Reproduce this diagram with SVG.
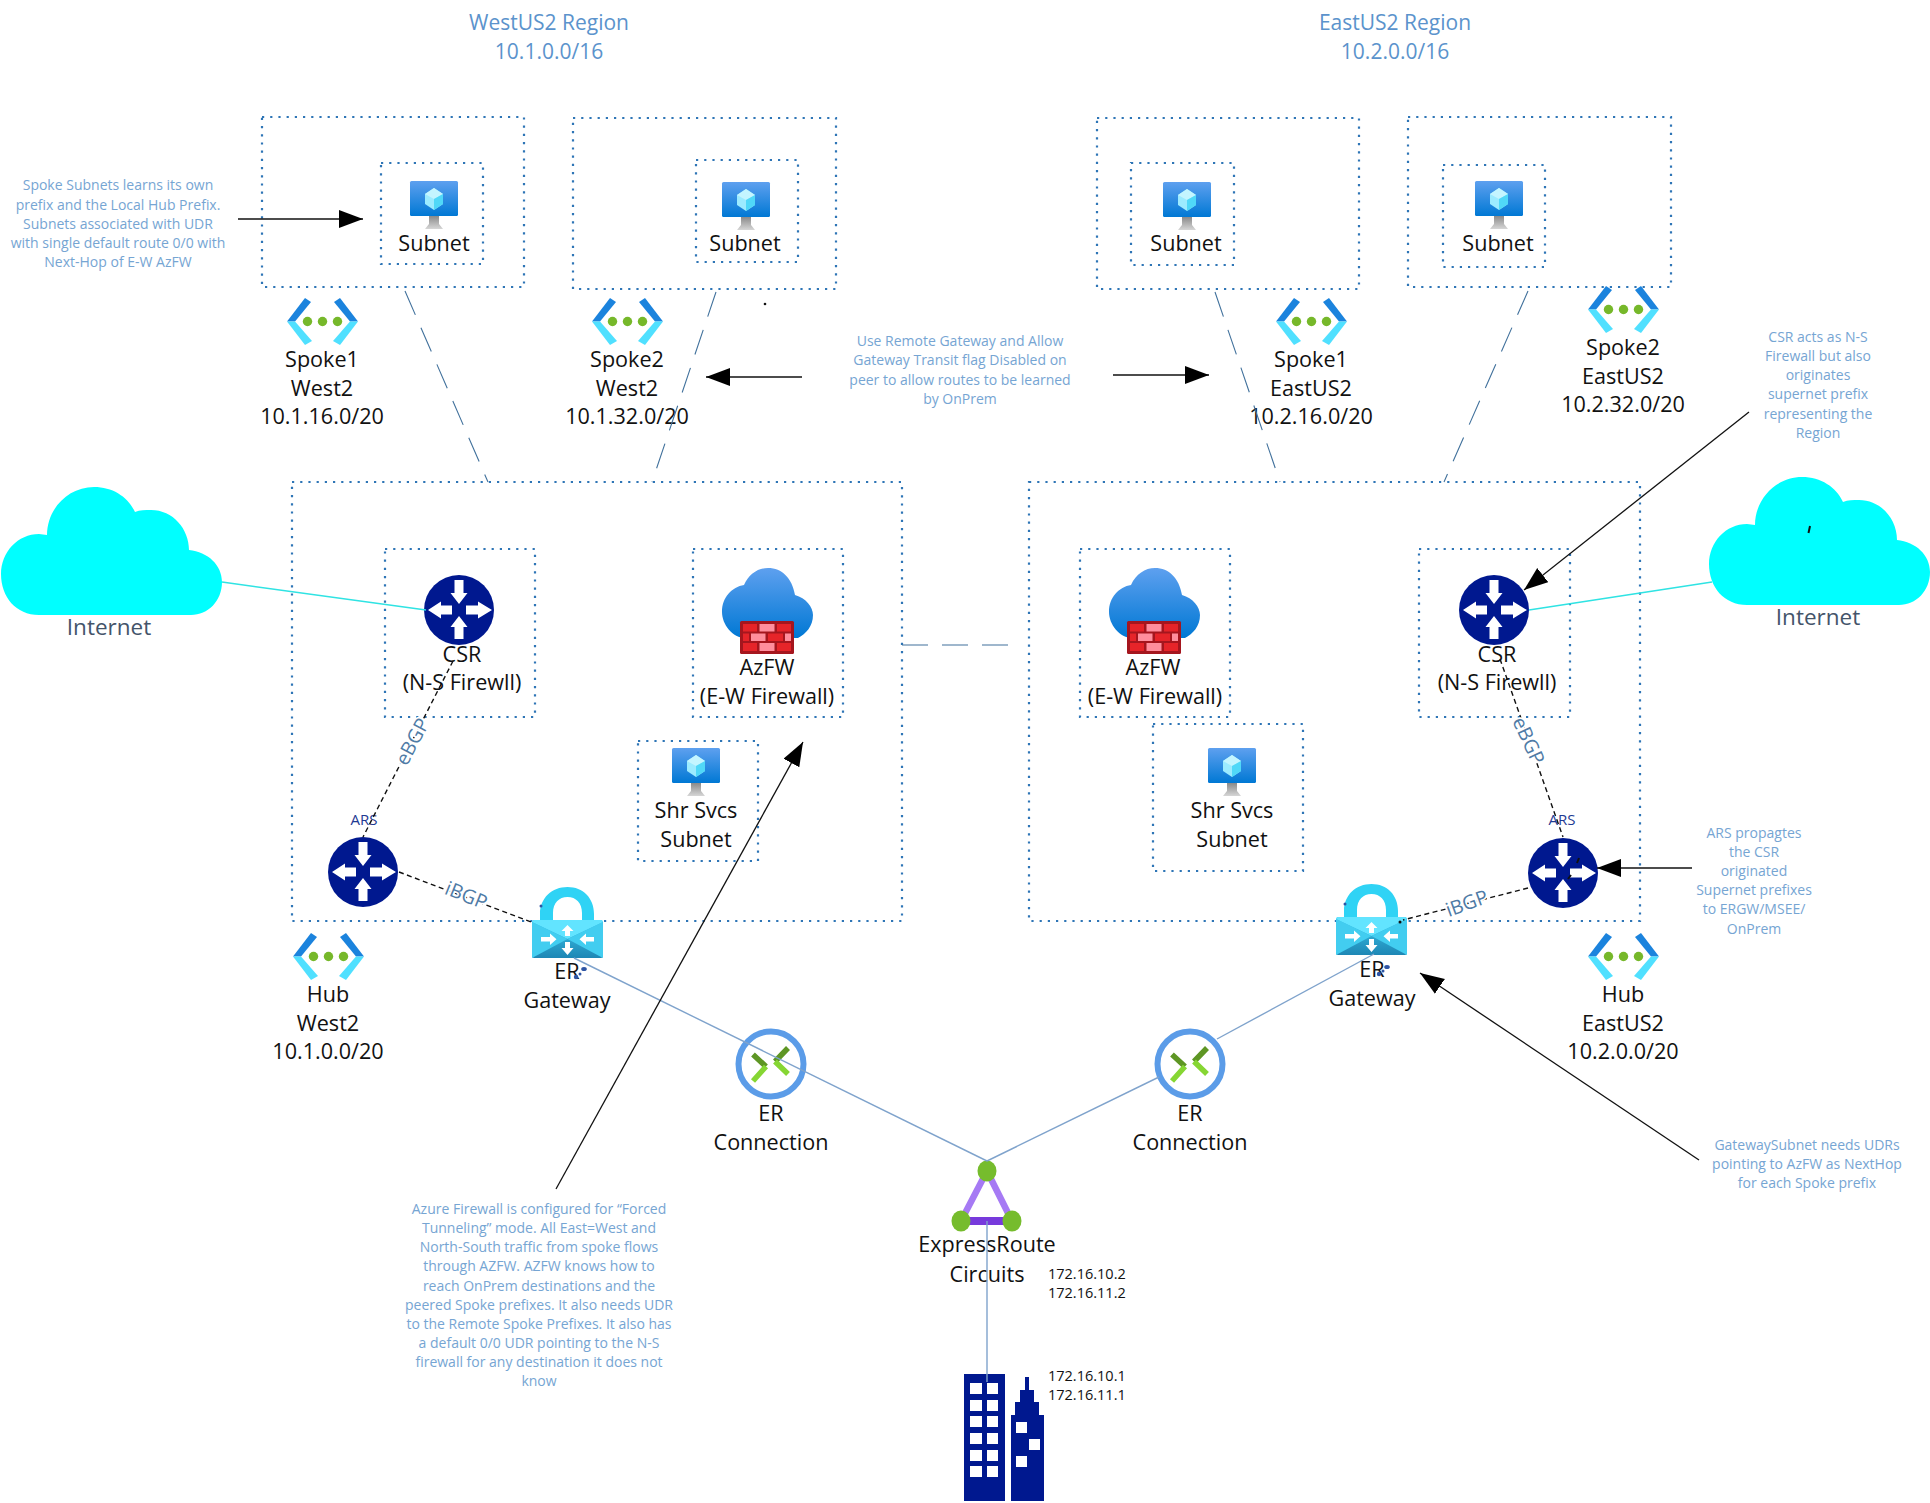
<svg xmlns="http://www.w3.org/2000/svg" xmlns:xlink="http://www.w3.org/1999/xlink" width="1930" height="1503" viewBox="0 0 1930 1503">
<style>
text{font-family:"Open Sans","Noto Sans","Liberation Sans",sans-serif;text-anchor:middle}
.box{fill:none;stroke:#2E75B6;stroke-width:2.2;stroke-dasharray:2.2 6}
.l{font-size:21.6px;fill:#111}
.r{font-size:21px;fill:#5B93CC}
.a{font-size:14px;fill:#76A5D3}
.net{font-size:22.5px;fill:#44546A}
.bgp{font-size:19.5px;fill:#4F7BA6;stroke:#fff;stroke-width:3.5;paint-order:stroke}
.ars{font-size:15px;fill:#1F3A93}
.ip{font-size:14.5px;fill:#111;text-anchor:start}
.peer{fill:none;stroke:#41719C;stroke-width:1.1;stroke-dasharray:26 14}
.er{fill:none;stroke:#7FA3CC;stroke-width:1.4}
.inet{fill:none;stroke:#2FE3E3;stroke-width:1.5}
.bg{fill:none;stroke:#111;stroke-width:1.4;stroke-dasharray:5 3.5}
.ann{fill:none;stroke:#111;stroke-width:1.3;marker-end:url(#head)}
.mark{fill:#2F55A4}
</style>
<defs>
<marker id="head" markerUnits="userSpaceOnUse" markerWidth="26" markerHeight="20" refX="24" refY="9" orient="auto"><path d="M0 0L24 9L0 18Z" fill="#000"/></marker>
<linearGradient id="vmg" x1="0" y1="0" x2="0" y2="1"><stop offset="0" stop-color="#5EA0EF"/><stop offset="1" stop-color="#0078D4"/></linearGradient>
<linearGradient id="stand" x1="0" y1="0" x2="0" y2="1"><stop offset="0" stop-color="#8A8A8A"/><stop offset="1" stop-color="#D6D6D6"/></linearGradient>
<linearGradient id="lockb" x1="0" y1="0" x2="0" y2="1"><stop offset="0" stop-color="#3EC8EC"/><stop offset="1" stop-color="#1E87B5"/></linearGradient>
<symbol id="vm" viewBox="0 0 48 48" width="48" height="48" overflow="visible">
<rect width="48" height="35" rx="1.5" fill="url(#vmg)"/>
<path d="M24 7L33 13V23L24 29L15 23V13Z" fill="#9CEBFF"/><path d="M24 7L33 13L24 18L15 13Z" fill="#C4F5FF"/><path d="M24 18V29L33 23V13Z" fill="#50D8F8"/>
<path d="M19 35H29V43L33 48H15L19 43Z" fill="url(#stand)"/>
</symbol>
<symbol id="vnet" viewBox="0 0 71 47" width="71" height="47" overflow="visible">
<path d="M0 23.500L18 0L24 4L8 23.500Z" fill="#1B83DD"/><path d="M0 23.500L18 47L25 43L8 23.500Z" fill="#50E0FF"/>
<path d="M71 23.500L53 0L47 4L63 23.500Z" fill="#1B83DD"/><path d="M71 23.500L53 47L46 43L63 23.500Z" fill="#50E0FF"/>
<circle cx="20.500" cy="23.500" r="4.700" fill="#76B82A"/><circle cx="35.500" cy="23.500" r="4.700" fill="#76B82A"/><circle cx="50.500" cy="23.500" r="4.700" fill="#76B82A"/>
</symbol>
<symbol id="router" viewBox="-35 -35 70 70" width="70" height="70" overflow="visible">
<circle r="35" fill="#00188F"/>
<path fill="#fff" d="M-4.500 -30H4.500V-17H8.500L0 -6L-8.500 -17H-4.500Z M-4.500 29H4.500V17H8.500L0 6L-8.500 17H-4.500Z M-7 -4.500V4.500H-18V8.500L-31 0L-18 -8.500V-4.500Z M7 -4.500V4.500H19V8.500L33 0L19 -8.500V-4.500Z"/>
</symbol>
<symbol id="cloud" viewBox="0 0 221 128" width="221" height="128">
<path fill="#00FFFF" d="M38 128C15 128 0 110 0 87C0 65 17 47 38 47L46 48C46 22 67 0 93 0C112 0 127 10 134 25C139 23 144 23 150 23C172 23 188 42 188 63C207 65 221 78 221 95C221 114 207 128 190 128Z"/>
</symbol>
<symbol id="azfw" viewBox="0 0 91 86" width="91" height="86" overflow="visible">
<path fill="url(#vmg)" d="M24 70C10 70 0 56 0 44C0 29 10 19 22 17C27 6 36 0 46 0C60 0 70 10 73 27C84 30 91 39 91 47C91 58 84 66 76 70Z"/>
<g transform="translate(18 53)">
<rect width="54" height="33" rx="1.5" fill="#A5161E"/>
<path fill="#E62429" d="M3 3H17V10.500H3Z M37 3H51V10.500H37Z M3 12.500H9V20H3Z M28 12.500H43V20H28Z M3 22H17V30H3Z M37 22H51V30H37Z"/>
<path fill="#FF8E9C" d="M19.500 3H34.500V10.500H19.500Z M11 12.500H25.500V20H11Z M45 12.500H51V20H45Z M19.500 22H34.500V30H19.500Z"/>
</g>
</symbol>
<symbol id="lock" viewBox="0 0 71 71" width="71" height="71" overflow="visible">
<path fill="#2FD3F5" d="M8 36V27C8 11 20 0 35.500 0C51 0 62 11 62 27V36H50V26C50 16 44 10 35.500 10C27 10 21 16 21 26V36Z"/>
<path fill="url(#lockb)" d="M0 35C0 34 1 33 2 33H69C70 33 71 34 71 35V69C71 70 70 71 69 71H2C1 71 0 70 0 69Z"/>
<path fill="#62E4FF" d="M0 35C0 34 1 33 2 33H69C70 33 71 34 71 35L35.500 52Z"/>
<path fill="#42CDF0" d="M0 35L35.500 52L0 71Z M71 35L35.500 52L71 71Z"/>
<path fill="#fff" d="M33 49V44H29.500L35.500 38L41.500 44H38V49Z M33 55V61H29.500L35.500 68L41.500 61H38V55Z M9 50V54.500H18V58L24.500 52.250L18 46.500V50Z M62 50V54.500H54V58L47.500 52.250L54 46.500V50Z"/>
</symbol>
<symbol id="erc" viewBox="-36 -36 72 72" width="72" height="72" overflow="visible">
<circle r="32.500" fill="#fff" stroke="#5B9CE8" stroke-width="6"/>
<path d="M-18 -9.500L-5 2.500M4 -2.500L17 -16" stroke="#5E9624" stroke-width="5.500" fill="none"/>
<path d="M-5 2.500L-18 17M4 -2.500L17 10" stroke="#86D633" stroke-width="5.500" fill="none"/>
</symbol>
</defs>

<g id="titles">
<text class="r" x="549" y="30">WestUS2 Region</text><text class="r" x="549" y="59">10.1.0.0/16</text>
<text class="r" x="1395" y="30">EastUS2 Region</text><text class="r" x="1395" y="59">10.2.0.0/16</text>
</g>

<g id="spoke1-west">
<rect class="box" x="262" y="117" width="262" height="170"/><rect class="box" x="381" y="163" width="102" height="101"/>
<use href="#vm" x="410" y="181"/><text class="l" x="434" y="251">Subnet</text>
<use href="#vnet" x="287" y="298"/>
<text class="l" x="322" y="367">Spoke1</text><text class="l" x="322" y="396">West2</text><text class="l" x="322" y="424">10.1.16.0/20</text>
</g>
<g id="spoke2-west">
<rect class="box" x="573" y="118" width="263" height="171"/><rect class="box" x="696" y="160" width="102" height="102"/>
<use href="#vm" x="722" y="182"/><text class="l" x="745" y="251">Subnet</text>
<use href="#vnet" x="592" y="298"/>
<text class="l" x="627" y="367">Spoke2</text><text class="l" x="627" y="396">West2</text><text class="l" x="627" y="424">10.1.32.0/20</text>
<circle cx="765" cy="304" r="1.300" fill="#111"/>
</g>
<g id="spoke1-east">
<rect class="box" x="1097" y="118" width="262" height="171"/><rect class="box" x="1131" y="163" width="103" height="102"/>
<use href="#vm" x="1163" y="182"/><text class="l" x="1186" y="251">Subnet</text>
<use href="#vnet" x="1276" y="298"/>
<text class="l" x="1311" y="367">Spoke1</text><text class="l" x="1311" y="396">EastUS2</text><text class="l" x="1311" y="424">10.2.16.0/20</text>
</g>
<g id="spoke2-east">
<rect class="box" x="1408" y="117" width="263" height="170"/><rect class="box" x="1443" y="165" width="102" height="102"/>
<use href="#vm" x="1475" y="181"/><text class="l" x="1498" y="251">Subnet</text>
<use href="#vnet" x="1588" y="286"/>
<text class="l" x="1623" y="355">Spoke2</text><text class="l" x="1623" y="384">EastUS2</text><text class="l" x="1623" y="412">10.2.32.0/20</text>
</g>

<g id="hub-west">
<rect class="box" x="292" y="482" width="610" height="439"/>
<use href="#vnet" x="293" y="933"/>
<text class="l" x="328" y="1002">Hub</text><text class="l" x="328" y="1031">West2</text><text class="l" x="328" y="1059">10.1.0.0/20</text>
</g>
<g id="hub-east">
<rect class="box" x="1029" y="482" width="611" height="439"/>
<use href="#vnet" x="1588" y="933"/>
<text class="l" x="1623" y="1002">Hub</text><text class="l" x="1623" y="1031">EastUS2</text><text class="l" x="1623" y="1059">10.2.0.0/20</text>
</g>

<g id="internet-west"><use href="#cloud" x="1" y="487"/><text class="net" x="109" y="635">Internet</text></g>
<g id="internet-east"><use href="#cloud" x="1709" y="477"/><text class="net" x="1818" y="625">Internet</text>
<path d="M1810 526L1808.500 533" stroke="#111" stroke-width="2"/></g>

<g id="csr-west">
<rect class="box" x="385" y="549" width="150" height="168"/>
<use href="#router" x="424" y="575"/>
<text class="l" x="462" y="662">CSR</text><text class="l" x="462" y="690">(N-S Firewll)</text>
</g>
<g id="azfw-west">
<rect class="box" x="693" y="549" width="150" height="168"/>
<use href="#azfw" x="722" y="568"/>
<text class="l" x="767" y="675">AzFW</text><text class="l" x="767" y="704">(E-W Firewall)</text>
</g>
<g id="shr-west">
<rect class="box" x="638" y="741" width="120" height="120"/>
<use href="#vm" x="672" y="748"/>
<text class="l" x="696" y="818">Shr Svcs</text><text class="l" x="696" y="847">Subnet</text>
</g>
<g id="ars-west"><use href="#router" x="328" y="837"/><text class="ars" x="364" y="825">ARS</text></g>
<g id="er-gw-west"><use href="#lock" x="532" y="887"/>
<text class="l" x="567" y="979">ER</text><text class="l" x="567" y="1008">Gateway</text>
<circle class="mark" cx="541" cy="906" r="1.500"/><ellipse class="mark" cx="584" cy="969" rx="2.800" ry="2"/><circle class="mark" cx="580" cy="974" r="1.500"/><circle class="mark" cx="576" cy="977" r="2.200"/>
</g>

<g id="azfw-east">
<rect class="box" x="1080" y="549" width="150" height="168"/>
<use href="#azfw" x="1109" y="568"/>
<text class="l" x="1153" y="675">AzFW</text><text class="l" x="1155" y="704">(E-W Firewall)</text>
</g>
<g id="shr-east">
<rect class="box" x="1153" y="724" width="150" height="147"/>
<use href="#vm" x="1208" y="748"/>
<text class="l" x="1232" y="818">Shr Svcs</text><text class="l" x="1232" y="847">Subnet</text>
</g>
<g id="csr-east">
<rect class="box" x="1419" y="549" width="151" height="168"/>
<use href="#router" x="1459" y="575"/>
<text class="l" x="1497" y="662">CSR</text><text class="l" x="1497" y="690">(N-S Firewll)</text>
</g>
<g id="ars-east"><use href="#router" x="1528" y="838"/><text class="ars" x="1562" y="825">ARS</text>
<path d="M1579 858L1577 863M1571 875L1568 879" stroke="#111" stroke-width="2"/></g>
<g id="er-gw-east"><use href="#lock" x="1336" y="884"/>
<text class="l" x="1372" y="977">ER</text><text class="l" x="1372" y="1006">Gateway</text>
<circle class="mark" cx="1345" cy="904" r="1.500"/><ellipse class="mark" cx="1387" cy="967" rx="2.800" ry="2"/><circle class="mark" cx="1383" cy="971" r="1.500"/><circle class="mark" cx="1379" cy="974" r="2.200"/>
<circle cx="1400" cy="922" r="1.500" fill="#111"/>
</g>

<g id="er-conn-west"><use href="#erc" x="735" y="1028"/><text class="l" x="771" y="1121">ER</text><text class="l" x="771" y="1150">Connection</text></g>
<g id="er-conn-east"><use href="#erc" x="1154" y="1028"/><text class="l" x="1190" y="1121">ER</text><text class="l" x="1190" y="1150">Connection</text></g>

<g id="expressroute">
<path d="M987 1171L961 1221M987 1171L1012 1221" stroke="#A67AF4" stroke-width="6.500" fill="none"/>
<path d="M961 1221H1012" stroke="#773ADC" stroke-width="8" fill="none"/>
<ellipse cx="987" cy="1171" rx="9.500" ry="10.500" fill="#76BC2D"/><ellipse cx="961" cy="1221" rx="9.500" ry="10.500" fill="#76BC2D"/><ellipse cx="1012" cy="1221" rx="9.500" ry="10.500" fill="#76BC2D"/>
<text class="l" x="987" y="1252">ExpressRoute</text><text class="l" x="987" y="1282">Circuits</text>
<text class="ip" x="1048" y="1279">172.16.10.2</text><text class="ip" x="1048" y="1298">172.16.11.2</text>
</g>
<g id="onprem">
<path fill="#00188F" fill-rule="evenodd" d="M964 1374H1005V1501H964Z M970 1383V1394H982V1383Z M987 1383V1394H998V1383Z M970 1400V1411H982V1400Z M987 1400V1411H998V1400Z M970 1416V1427H982V1416Z M987 1416V1427H998V1416Z M970 1433V1444H982V1433Z M987 1433V1444H998V1433Z M970 1450V1461H982V1450Z M987 1450V1461H998V1450Z M970 1466V1477H982V1466Z M987 1466V1477H998V1466Z"/>
<path fill="#00188F" fill-rule="evenodd" d="M1025 1377H1029V1390H1034V1402H1039V1415H1044V1501H1011V1415H1015V1402H1020V1390H1025Z M1016 1422V1433H1027V1422Z M1029 1439V1450H1040V1439Z M1016 1456V1467H1027V1456Z"/>
<text class="ip" x="1048" y="1381">172.16.10.1</text><text class="ip" x="1048" y="1400">172.16.11.1</text>
</g>

<g id="connectors">
<path class="peer" d="M405 291L488 482"/><path class="peer" d="M716 292L652 482"/>
<path class="peer" d="M1215 292L1280 482"/><path class="peer" d="M1528 291L1444 482"/>
<path class="peer" d="M902 645H1022"/>
<path class="inet" d="M222 582L426 610"/><path class="inet" d="M1529 610L1712 582"/>
<path class="bg" d="M453 661L363 837"/><path class="bg" d="M399 872L531 922"/>
<path class="bg" d="M1500 659L1563 837"/><path class="bg" d="M1528 888L1403 920"/>
<path class="er" d="M574 958L987 1161"/><path class="er" d="M1374 954L1217 1039"/><path class="er" d="M1159 1077L987 1161"/><path class="er" d="M987 1221V1382"/>
<path class="ann" d="M238 219H363"/><path class="ann" d="M802 377H706"/><path class="ann" d="M1113 375H1209"/>
<path class="ann" d="M1749 412L1524 590"/><path class="ann" d="M1692 868H1597"/><path class="ann" d="M1699 1160L1420 973"/><path class="ann" d="M556 1189L803 742"/>
</g>

<g id="labels">
<text class="bgp" transform="translate(413 742) rotate(-62)" y="6">eBGP</text>
<text class="bgp" transform="translate(466 896) rotate(22)" y="6">iBGP</text>
<text class="bgp" transform="translate(1528 741) rotate(65)" y="6">eBGP</text>
<text class="bgp" transform="translate(1467 904) rotate(-20)" y="6">iBGP</text>
</g>

<g id="notes">
<text class="a" x="118" y="190">Spoke Subnets learns its own</text><text class="a" x="118" y="210">prefix and the Local Hub Prefix.</text><text class="a" x="118" y="229">Subnets associated with UDR</text><text class="a" x="118" y="248">with single default route 0/0 with</text><text class="a" x="118" y="267">Next-Hop of E-W AzFW</text>
<text class="a" x="960" y="346">Use Remote Gateway and Allow</text><text class="a" x="960" y="365">Gateway Transit flag Disabled on</text><text class="a" x="960" y="385">peer to allow routes to be learned</text><text class="a" x="960" y="404">by OnPrem</text>
<text class="a" x="1818" y="342">CSR acts as N-S</text><text class="a" x="1818" y="361">Firewall but also</text><text class="a" x="1818" y="380">originates</text><text class="a" x="1818" y="399">supernet prefix</text><text class="a" x="1818" y="419">representing the</text><text class="a" x="1818" y="438">Region</text>
<text class="a" x="1754" y="838">ARS propagtes</text><text class="a" x="1754" y="857">the  CSR</text><text class="a" x="1754" y="876">originated</text><text class="a" x="1754" y="895">Supernet prefixes</text><text class="a" x="1754" y="914">to ERGW/MSEE/</text><text class="a" x="1754" y="934">OnPrem</text>
<text class="a" x="1807" y="1150">GatewaySubnet needs UDRs</text><text class="a" x="1807" y="1169">pointing to AzFW as NextHop</text><text class="a" x="1807" y="1188">for each Spoke prefix</text>
<text class="a" x="539" y="1214">Azure Firewall is configured for “Forced</text><text class="a" x="539" y="1233">Tunneling” mode. All East=West and</text><text class="a" x="539" y="1252">North-South traffic from spoke flows</text><text class="a" x="539" y="1271">through AZFW.  AZFW knows how to</text><text class="a" x="539" y="1291">reach OnPrem destinations and the</text><text class="a" x="539" y="1310">peered Spoke prefixes. It also needs UDR</text><text class="a" x="539" y="1329">to the Remote Spoke Prefixes.  It also has</text><text class="a" x="539" y="1348">a default 0/0 UDR pointing to the N-S</text><text class="a" x="539" y="1367">firewall for any destination it does not</text><text class="a" x="539" y="1386">know</text>
</g>
</svg>
